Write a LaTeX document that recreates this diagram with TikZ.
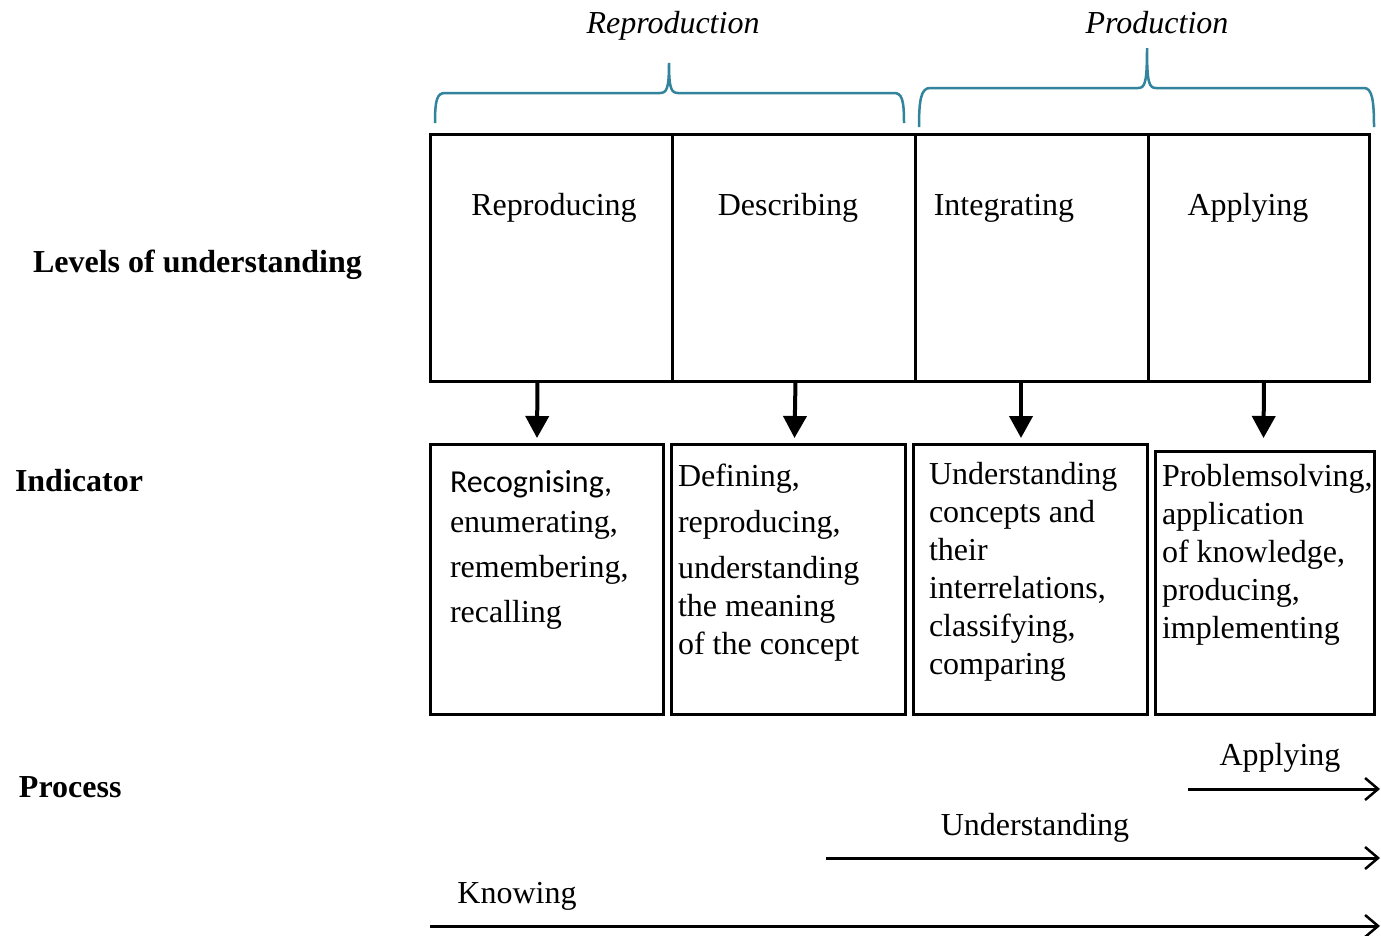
\documentclass[tikz,border=0pt]{standalone}
\usepackage{fontspec}
\setmainfont{Liberation Serif}
\newfontfamily\calibri{Carlito}
\usetikzlibrary{arrows.meta}
\definecolor{braceblue}{HTML}{31849B}
\begin{document}
\begin{tikzpicture}[x=1pt,y=-1pt,
  box/.style={draw, line width=3pt, inner sep=0pt, outer sep=0pt, anchor=north west},
  txt/.style={font=\fontsize{32}{38}\selectfont, inner sep=0pt, outer sep=0pt},
  btxt/.style={txt, font=\fontsize{32}{38}\selectfont\bfseries},
  itxt/.style={txt, font=\fontsize{32}{38}\selectfont\itshape},
  multi/.style={txt, align=left, anchor=base west},
  downarr/.style={line width=4pt, -{Triangle[width=23pt,length=22pt]}},
  procarr/.style={line width=3pt, -{Straight Barb[length=13pt,width=22pt,line width=2.5pt]}},
  bracepath/.style={draw=braceblue, line width=2.5pt}]
\fill[white] (0,0) rectangle (1381,935);
\useasboundingbox (0,0) rectangle (1381,935);

% braces
\draw[bracepath] (435,123) .. controls (435,100) and (437,93) .. (445,93) -- (660,93)
  .. controls (667,93) and (669,88) .. (669,63) .. controls (669,88) and (671,93) .. (678,93)
  -- (894,93) .. controls (902,93) and (904,100) .. (904,123);
\draw[bracepath] (919,127) .. controls (919,100) and (921,88) .. (930,88) -- (1138,88)
  .. controls (1145,88) and (1147,83) .. (1147,48) .. controls (1147,83) and (1149,88) .. (1156,88)
  -- (1364,88) .. controls (1372,88) and (1374,100) .. (1374,127);
\node[itxt, anchor=base] (reprod) at (673,33) {Reproduction};
\node[itxt, anchor=base] (prod) at (1157,33) {Production};

% left labels
\node[btxt, anchor=base west] (lev) at (33,272) {Levels of understanding};
\node[btxt, anchor=base west] (ind) at (15,491) {Indicator};
\node[btxt, anchor=base west] (proc) at (19,797) {Process};

% top boxes
\node[box, minimum width=242pt, minimum height=247pt] (t1) at (430,134) {};
\node[box, minimum width=243pt, minimum height=247pt] (t2) at (672,134) {};
\node[box, minimum width=233pt, minimum height=247pt] (t3) at (915,134) {};
\node[box, minimum width=221pt, minimum height=247pt] (t4) at (1148,134) {};
\node[txt, anchor=base] (l1) at (554,215) {Reproducing};
\node[txt, anchor=base] (l2) at (788,215) {Describing};
\node[txt, anchor=base] (l3) at (1004,215) {Integrating};
\node[txt, anchor=base] (l4) at (1248,215) {Applying};

% bottom boxes
\node[box, minimum width=233pt, minimum height=270pt] (b1) at (430,444) {};
\node[box, minimum width=234pt, minimum height=270pt] (b2) at (671,444) {};
\node[box, minimum width=234pt, minimum height=270pt] (b3) at (913,444) {};
\node[box, minimum width=219pt, minimum height=263pt] (b4) at (1155,451) {};

% multi-line texts: anchor at the baseline of the last line
\node[multi] (i1) at (450,622) {{\calibri Recognising,}\\[2pt] enumerating,\\[7pt] remembering,\\[7pt] recalling};
\node[multi] (i2) at (678,654) {Defining,\\[8pt] reproducing,\\[8pt] understanding\\ the meaning\\ of the concept};
\node[multi] (i3) at (929,674) {Understanding\\ concepts and\\ their\\ interrelations,\\ classifying,\\ comparing};
\node[multi] (i4) at (1162,638) {Problemsolving,\\ application\\ of knowledge,\\ producing,\\ implementing};

% arrows
\draw[downarr] ([xshift=-13.5pt]t1.south) -- ([xshift=-9.5pt,yshift=6pt]b1.north);
\draw[downarr] ([xshift=2pt]t2.south) -- ([xshift=6.5pt,yshift=6pt]b2.north);
\draw[downarr] ([xshift=-10.5pt]t3.south) -- ([xshift=-9pt,yshift=6pt]b3.north);
\draw[downarr] ([xshift=5.5pt]t4.south) -- ([xshift=-1pt,yshift=13pt]b4.north);

% process
\coordinate (aps) at (1188,789);
\coordinate (ape) at (1380,789);
\coordinate (uns) at (826,858);
\coordinate (une) at (1380,858);
\coordinate (kns) at (430,926);
\coordinate (kne) at (1380,926);
\draw[procarr] (aps) -- (ape);
\draw[procarr] (uns) -- (une);
\draw[procarr] (kns) -- (kne);
\node[txt, anchor=base] (pa) at (1280,765) {Applying};
\node[txt, anchor=base] (pu) at (1035,835) {Understanding};
\node[txt, anchor=base] (pk) at (517,903) {Knowing};
\end{tikzpicture}
\end{document}
